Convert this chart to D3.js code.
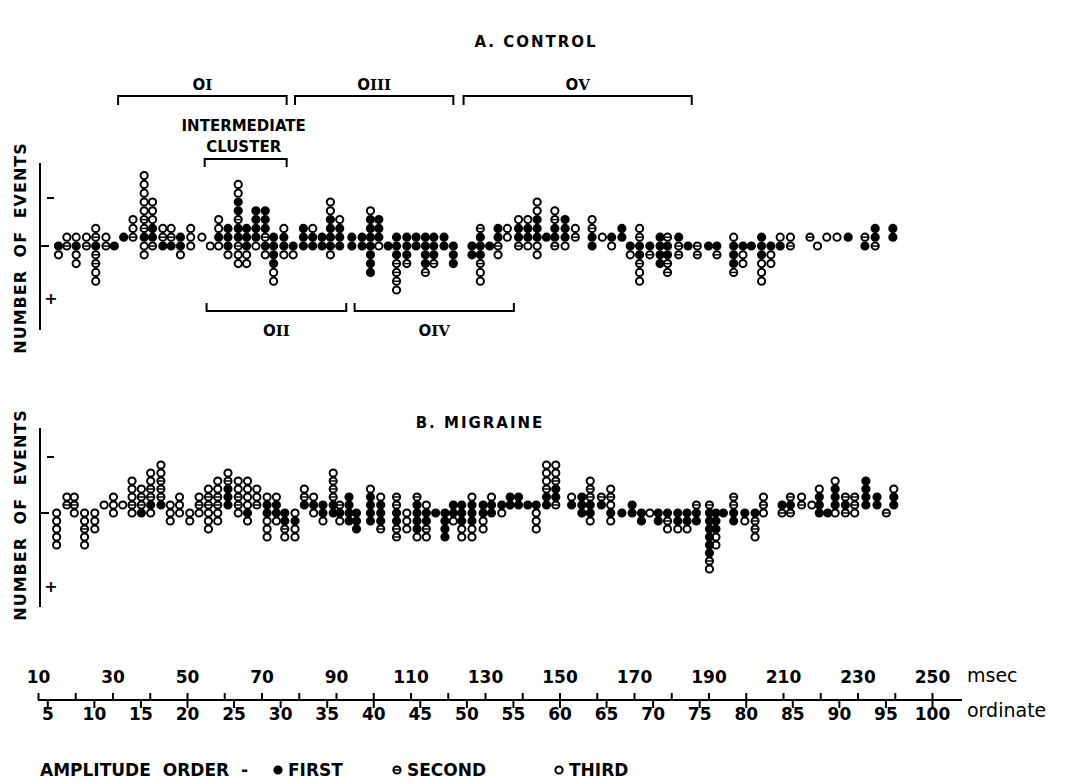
<!DOCTYPE html>
<html>
<head>
<meta charset="utf-8">
<script src="https://cdn.jsdelivr.net/npm/d3@7/dist/d3.min.js"></script>
<style>
  body { margin: 0; background: #fff; }
  text { font-family: "DejaVu Sans", sans-serif; fill: #000; }
</style>
</head>
<body>
<script>
// ---- data ----
// msec axis (top of scale) and ordinate axis (bottom), ordinate = msec / 2.5
var msecTicks = d3.range(10, 251, 10);
var msecLabels = d3.range(10, 251, 20);
var ordinateTicks = d3.range(5, 101, 5);
var amplitudeOrder = ["FIRST", "SECOND", "THIRD"];

// each column: [ordinate, level of topmost dot (neg = above line), dot codes top->bottom]
// codes: 1 = first, 2 = second, 3 = third amplitude order
var controlColumns = [
  [6.2, 0, "13"], [7.1, -1, "32"], [8.1, -1, "3133"], [9.2, -1, "32"],
  [10.2, -2, "3212233"], [11.3, -1, "32"], [12.2, 0, "1"], [13.2, -1, "1"],
  [14.2, -3, "332"], [15.4, -8, "3333322133"], [16.3, -5, "333112"],
  [17.4, -2, "321"], [18.3, -2, "321"], [19.3, -1, "113"], [20.4, -2, "333"],
  [21.6, -1, "3"], [22.5, 0, "3"], [23.4, -3, "3313"], [24.4, -2, "1113"],
  [25.5, -7, "3311211233"], [26.4, -2, "11133"], [27.4, -4, "11113"],
  [28.4, -4, "111213"], [29.3, -1, "111133"], [30.4, -2, "3113"],
  [31.4, 0, "13"], [32.5, -2, "111"], [33.5, -2, "311"], [34.5, -1, "11"],
  [35.4, -5, "3311113"], [36.4, -3, "3111"], [37.7, -1, "11"], [38.8, -1, "11"],
  [39.7, -4, "31111111"], [40.6, -3, "1113"], [41.6, 0, "1"],
  [42.5, -1, "1112223"], [43.6, -1, "1112"], [44.6, -1, "11"],
  [45.6, -1, "11112"], [46.5, -1, "1112"], [47.6, -1, "11"], [48.6, 0, "111"],
  [50.6, 0, "11"], [51.5, -2, "2111233"], [52.5, 0, "1"], [53.4, -2, "1123"],
  [54.4, -2, "33"], [55.6, -3, "3112"], [56.6, -3, "3113"],
  [57.6, -5, "3311133"], [58.6, -1, "1"], [59.5, -4, "32112"],
  [60.6, -3, "1113"], [61.7, -2, "32"], [63.5, -3, "3211"], [64.6, -1, "3"],
  [65.6, -1, "13"], [66.7, -2, "11"], [67.6, 0, "13"], [68.6, -2, "3211233"],
  [69.7, 0, "12"], [70.8, -1, "1111"], [71.6, -1, "21122"], [72.8, -1, "122"],
  [73.8, 0, "1"], [74.8, 0, "22"], [76.0, 0, "1"], [76.9, 0, "12"],
  [78.7, -1, "31112"], [79.7, 0, "133"], [80.6, 0, "1"], [81.7, -1, "111333"],
  [82.7, 0, "133"], [83.7, -1, "31"], [84.8, -1, "32"], [86.9, -1, "2"],
  [87.7, 0, "3"], [88.7, -1, "3"], [89.8, -1, "3"], [91.0, -1, "1"],
  [92.8, -1, "21"], [93.9, -2, "112"], [95.8, -2, "11"]
];

var migraineColumns = [
  [6.0, 0, "33333"], [7.1, -2, "32"], [7.9, -2, "323"], [9.0, 0, "33233"],
  [10.1, 0, "333"], [11.1, -1, "3"], [12.1, -2, "333"], [13.1, -1, "3"],
  [14.1, -4, "33323"], [15.1, -3, "3221"], [16.1, -5, "332213"],
  [17.2, -6, "332221"], [18.2, -1, "333"], [19.2, -2, "333"], [20.3, 0, "33"],
  [21.3, -2, "323"], [22.3, -3, "322333"], [23.3, -4, "332233"],
  [24.4, -5, "32111"], [25.5, -4, "33223"], [26.5, -4, "333313"],
  [27.5, -3, "332"], [28.6, -2, "311333"], [29.6, -2, "3113"],
  [30.5, 0, "1123"], [31.6, 0, "3133"], [32.6, -3, "321"], [33.6, -2, "313"],
  [34.6, -1, "113"], [35.7, -5, "322211"], [36.4, -1, "213"],
  [37.4, -2, "1111"], [38.2, 0, "111"], [39.7, -3, "31111"],
  [40.8, -2, "31112"], [42.5, -2, "221122"], [43.6, 0, "333"],
  [44.7, -2, "211113"], [45.7, -1, "31123"], [46.7, 0, "1"], [47.7, 0, "1111"],
  [48.6, -1, "113"], [49.5, -1, "11133"], [50.6, -2, "311133"],
  [51.8, -1, "1133"], [52.7, -2, "311"], [53.8, -1, "13"], [54.7, -2, "11"],
  [55.6, -2, "11"], [56.6, -1, "1"], [57.5, -1, "1333"], [58.6, -6, "333211"],
  [59.6, -6, "332112"], [61.3, -2, "31"], [62.4, -2, "111"],
  [63.3, -4, "322113"], [64.5, -2, "21"], [65.5, -3, "32313"], [66.7, 0, "1"],
  [67.8, -1, "11"], [68.8, 0, "11"], [69.7, 0, "3"], [70.6, 0, "11"],
  [71.6, 0, "123"], [72.7, 0, "113"], [73.7, 0, "113"], [74.7, -1, "211"],
  [76.1, -1, "211111123"], [76.8, 0, "11133"], [77.6, 0, "1"],
  [78.7, -2, "2211"], [79.9, 0, "13"], [81.0, 0, "1223"], [81.9, -2, "323"],
  [83.9, -1, "12"], [84.8, -2, "212"], [86.0, -2, "32"], [87.1, -1, "3"],
  [87.9, -3, "3111"], [88.8, 0, "1"], [89.6, -4, "31113"], [90.7, -2, "212"],
  [91.7, -2, "223"], [92.9, -4, "1111"], [94.1, -2, "11"], [95.1, 0, "2"],
  [95.9, -3, "311"]
];

// component brackets for the control panel (ordinate ranges)
var upperBrackets = [["I", 12.6, 30.7], ["III", 31.6, 48.6], ["V", 49.7, 74.2]];
var lowerBrackets = [["II", 22.1, 37.1], ["IV", 38.0, 55.1]];
var intermediateCluster = [21.9, 30.7];

// ---- layout ----
var W = 1069, H = 782;
var R = 3.6;
var svg = d3.select("body").append("svg").attr("width", W).attr("height", H);

var xMsec = d3.scaleLinear().domain([10, 250]).range([38, 932]);
var xOrd = d3.scaleLinear().domain([4, 100]).range([38, 932]);

function expand(cols) {
    var out = [];
    cols.forEach(function(c) {
        c[2].split("").forEach(function(ch, i) {
            if (ch !== ".") out.push({o: c[0], lv: c[1] + i, t: +ch});
        });
    });
    return out;
}

function drawDots(g, dots, yScale) {
    var d = g.selectAll("g.dot")
        .data(dots)
        .enter()
        .append("g")
        .attr("class", "dot")
        .attr("transform", function(d) {
            return "translate(" + xOrd(d.o) + "," + yScale(d.lv) + ")";
        });
    symbol(d);
}

function symbol(sel) {
    sel.append("circle")
        .attr("r", R)
        .attr("fill", function(d) { return d.t === 1 ? "#000" : "#fff"; })
        .attr("stroke", "#000")
        .attr("stroke-width", 2);
    sel.filter(function(d) { return d.t === 2; })
        .append("line")
        .attr("x1", -R).attr("x2", R)
        .attr("stroke", "#000")
        .attr("stroke-width", 1.5);
}

function drawPanel(cols, y0, step, title, titleX, titleY, lineTop, lineBot, minusDy, plusDy) {
    var g = svg.append("g");
    var y = d3.scaleLinear().domain([0, 1]).range([y0, y0 + step]);

    g.append("text")
        .attr("x", titleX).attr("y", titleY)
        .attr("text-anchor", "middle")
        .style("font-size", "15px").style("font-weight", "bold")
        .style("letter-spacing", "2px")
        .text(title);

    // vertical "number of events" axis
    g.append("line").attr("x1", 40).attr("x2", 40)
        .attr("y1", y0 + lineTop).attr("y2", y0 + lineBot)
        .attr("stroke", "#000").attr("stroke-width", 2);
    g.append("line").attr("x1", 40).attr("x2", 49)
        .attr("y1", y0).attr("y2", y0)
        .attr("stroke", "#000").attr("stroke-width", 2);
    g.append("line").attr("x1", 47).attr("x2", 54)
        .attr("y1", y0 + minusDy).attr("y2", y0 + minusDy)
        .attr("stroke", "#000").attr("stroke-width", 2);
    g.append("text").attr("x", 51).attr("y", y0 + plusDy + 5)
        .attr("text-anchor", "middle")
        .style("font-size", "16px").style("font-weight", "bold")
        .text("+");

    g.append("text")
        .attr("transform", "translate(26," + (y0 + 2) + ") rotate(-90)")
        .attr("text-anchor", "middle")
        .style("font-size", "16px").style("font-weight", "bold")
        .style("letter-spacing", "1px").style("word-spacing", "6px")
        .text("NUMBER OF EVENTS");

    // draw open circles first, filled on top
    var dots = expand(cols).sort(function(a, b) { return b.t - a.t; });
    drawDots(g, dots, y);
}

function bracketLabel(g, num, xc, yb) {
    var t = g.append("text").attr("x", xc).attr("y", yb)
        .attr("text-anchor", "middle")
        .style("font-size", "15px").style("font-weight", "bold");
    t.append("tspan").text("O");
    t.append("tspan").style("font-family", "'DejaVu Serif', serif").text(num);
}

function drawBrackets() {
    var g = svg.append("g")
        .attr("fill", "none").attr("stroke", "#000").attr("stroke-width", 2);
    var tg = svg.append("g");
    upperBrackets.forEach(function(b) {
        var x1 = xOrd(b[1]), x2 = xOrd(b[2]);
        g.append("path").attr("d", "M" + x1 + ",105V96H" + x2 + "V105");
        bracketLabel(tg, b[0], (x1 + x2) / 2, 90);
    });
    lowerBrackets.forEach(function(b) {
        var x1 = xOrd(b[1]), x2 = xOrd(b[2]);
        g.append("path").attr("d", "M" + x1 + ",303V311H" + x2 + "V303");
        bracketLabel(tg, b[0], (x1 + x2) / 2, 336);
    });
    var c1 = xOrd(intermediateCluster[0]), c2 = xOrd(intermediateCluster[1]);
    g.append("path").attr("d", "M" + c1 + ",167V159H" + c2 + "V167");
    tg.append("text").attr("x", (c1 + c2) / 2 - 2).attr("y", 131)
        .attr("text-anchor", "middle")
        .style("font-size", "15px").style("font-weight", "bold")
        .text("INTERMEDIATE");
    tg.append("text").attr("x", (c1 + c2) / 2 - 2).attr("y", 152)
        .attr("text-anchor", "middle")
        .style("font-size", "15px").style("font-weight", "bold")
        .text("CLUSTER");
}

function drawAxis() {
    var yAx = 700;
    var top = d3.axisTop(xMsec)
        .tickValues(msecTicks)
        .tickSize(7)
        .tickPadding(10)
        .tickFormat(function(d) { return msecLabels.indexOf(d) >= 0 ? d : ""; });
    var bottom = d3.axisBottom(xOrd)
        .tickValues(ordinateTicks)
        .tickSize(8)
        .tickPadding(0);

    var gt = svg.append("g").attr("transform", "translate(0," + yAx + ")").call(top);
    var gb = svg.append("g").attr("transform", "translate(0," + yAx + ")").call(bottom);
    [gt, gb].forEach(function(g) {
        g.select(".domain").remove();
        g.selectAll("line").attr("stroke", "#000").attr("stroke-width", 2);
        g.selectAll("text")
            .style("font-family", "'DejaVu Sans', sans-serif")
            .style("font-size", "17px").style("font-weight", "bold");
    });
    svg.append("line")
        .attr("x1", xMsec(10)).attr("x2", xMsec(250) + 30)
        .attr("y1", yAx).attr("y2", yAx)
        .attr("stroke", "#000").attr("stroke-width", 2);

    svg.append("text").attr("x", 967).attr("y", 682)
        .style("font-size", "19px").text("msec");
    svg.append("text").attr("x", 967).attr("y", 717)
        .style("font-size", "19px").text("ordinate");
}

function drawLegend() {
    var yL = 770;
    svg.append("text").attr("x", 40).attr("y", yL + 6)
        .style("font-size", "17px").style("font-weight", "bold")
        .style("word-spacing", "6px")
        .text("AMPLITUDE ORDER -");
    var xs = [278, 397, 559];
    var items = svg.selectAll("g.leg")
        .data(amplitudeOrder)
        .enter()
        .append("g")
        .attr("class", "leg")
        .attr("transform", function(d, i) { return "translate(" + xs[i] + "," + yL + ")"; });
    symbol(items.datum(function(d, i) { return {t: i + 1, name: d}; }));
    items.append("text")
        .attr("x", 10).attr("y", 6)
        .style("font-size", "17px").style("font-weight", "bold")
        .text(function(d) { return d.name; });
}

drawPanel(controlColumns, 246, 8.8, "A. CONTROL", 536, 47, -83, 84, -48, 53);
drawPanel(migraineColumns, 513, 8, "B. MIGRAINE", 480, 428, -85, 94, -56, 74);
drawBrackets();
drawAxis();
drawLegend();
</script>
</body>
</html>
